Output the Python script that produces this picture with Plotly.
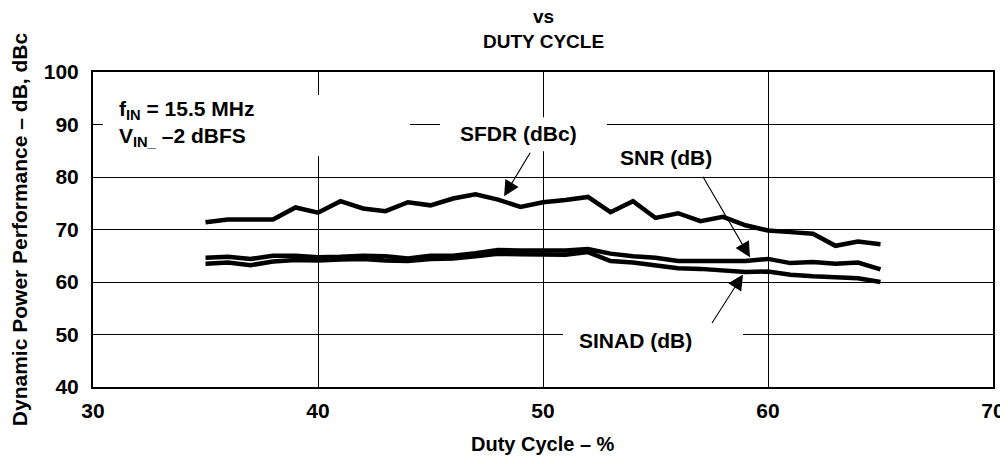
import plotly.graph_objects as go

duty_cycle = list(range(35, 66))
sfdr = [71.4, 71.9, 71.9, 71.9, 74.2, 73.2, 75.4, 74.0, 73.5, 75.2, 74.6, 75.9, 76.7, 75.7, 74.3, 75.2,
        75.6, 76.2, 73.3, 75.4, 72.2, 73.1, 71.6, 72.4, 70.8, 69.8, 69.5, 69.2, 66.9, 67.7, 67.2]
snr = [64.6, 64.8, 64.4, 65.0, 65.0, 64.7, 64.8, 65.0, 64.9, 64.5, 65.0, 65.0, 65.5, 66.1, 66.0, 65.9,
       66.0, 66.3, 65.4, 64.9, 64.6, 64.0, 64.1, 64.0, 64.0, 64.4, 63.6, 63.8, 63.5, 63.7, 62.4]
sinad = [63.5, 63.7, 63.2, 63.9, 64.2, 64.1, 64.3, 64.4, 64.1, 64.0, 64.4, 64.5, 64.9, 65.4, 65.3, 65.3,
         65.2, 65.7, 64.0, 63.7, 63.2, 62.6, 62.5, 62.1, 61.9, 62.0, 61.4, 61.1, 60.8, 60.7, 60.0]

x_ticks = [30, 40, 50, 60, 70]
y_ticks = [40, 50, 60, 70, 80, 90, 100]

FONT = "Liberation Sans, Arial, sans-serif"
BLACK = "#000000"

fig = go.Figure()
for name, vals in [("SFDR (dBc)", sfdr), ("SNR (dB)", snr), ("SINAD (dB)", sinad)]:
    fig.add_trace(go.Scatter(x=duty_cycle, y=vals, mode="lines", name=name,
                             line=dict(color=BLACK, width=4.5), showlegend=False))

# white masks that break the grid behind text labels
masks = [(30.44, 44.09, 84.0, 95.6), (45.42, 52.84, 84.9, 91.4), (50.89, 58.89, 45.4, 52.3)]
for x0, x1, y0, y1 in masks:
    fig.add_shape(type="rect", xref="x", yref="y", x0=x0, x1=x1, y0=y0, y1=y1,
                  fillcolor="white", line=dict(width=0), layer="between")

tf = dict(family=FONT, size=21, color=BLACK, weight="bold")
labels = [("SFDR (dBc)", 48.9, 88.36), ("SNR (dB)", 55.47, 83.78), ("SINAD (dB)", 54.09, 48.85)]
for t, x, y in labels:
    fig.add_annotation(x=x, y=y, text=t, showarrow=False, font=tf, xanchor="center", yanchor="middle")

fig.add_annotation(x=31.07, y=92.8, text="f<sub>IN</sub> = 15.5 MHz", showarrow=False, font=tf,
                   xanchor="left", yanchor="middle")
fig.add_annotation(x=31.07, y=87.6, text="V<sub>IN_</sub> –2 dBFS", showarrow=False, font=tf,
                   xanchor="left", yanchor="middle")

arrows = [(48.27, 76.34, 49.47, 84.92), (59.2, 64.7, 57.07, 80.34), (58.89, 61.45, 57.47, 51.9)]
for x, y, ax, ay in arrows:
    fig.add_annotation(x=x, y=y, ax=ax, ay=ay, axref="x", ayref="y", xref="x", yref="y", text="",
                       showarrow=True, arrowhead=2, arrowsize=2.8, arrowwidth=1.1, arrowcolor=BLACK,
                       standoff=0)

fig.add_annotation(xref="paper", yref="paper", x=0.5, y=1.138, text="vs<br>DUTY CYCLE", showarrow=False,
                   font=dict(family=FONT, size=19, color=BLACK, weight="bold"), yanchor="middle")
fig.add_annotation(xref="paper", yref="paper", x=0.5, y=-0.181, text="Duty Cycle – %", showarrow=False,
                   font=dict(family=FONT, size=20, color=BLACK, weight="bold"), yanchor="middle")

axis_common = dict(showgrid=True, gridcolor=BLACK, gridwidth=1, showline=True, linecolor=BLACK,
                   linewidth=2, mirror=True, ticks="", zeroline=False,
                   tickfont=dict(family=FONT, size=21, color=BLACK, weight="bold"))
fig.update_xaxes(range=[30, 70], tickvals=x_ticks, ticklabelstandoff=4, **axis_common)
fig.update_yaxes(range=[40, 100], tickvals=y_ticks, ticklabelstandoff=8,
                 title=dict(text="Dynamic Power Performance – dB, dBc", standoff=12,
                            font=dict(family=FONT, size=21, color=BLACK, weight="bold")),
                 **axis_common)

fig.update_layout(width=1000, height=456, margin=dict(l=85, r=15, t=64, b=77, autoexpand=False),
                  plot_bgcolor="white", paper_bgcolor="white")
fig.write_html("out.html")
